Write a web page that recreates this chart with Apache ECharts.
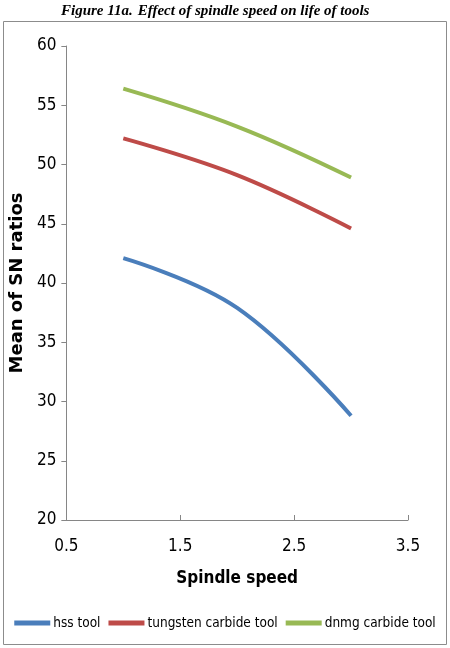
<!DOCTYPE html>
<html>
<head>
<meta charset="utf-8">
<script src="https://cdn.jsdelivr.net/npm/echarts@6/dist/echarts.min.js"></script>
<style>
    html, body { margin: 0; padding: 0; background: #fff; }
    #chart { width: 450px; height: 648px; }
</style>
</head>
<body>
<div id="chart"></div>
<script>
// spindle speed levels
const speeds = [1, 2, 3]
const hssTool = [42.1, 37.9, 28.8]
const tungstenTool = [52.2, 49.1, 44.6]
const dnmgTool = [56.4, 53.2, 48.9]
const seriesNames = ['hss tool', 'tungsten carbide tool', 'dnmg carbide tool']
const colorArr = ['#4a7ebb', '#be4b48', '#98b954']

const narrowFont = "'Liberation Sans Narrow', 'DejaVu Sans Condensed', sans-serif"

let chartInstance = echarts.init(document.getElementById('chart'))

const toPairs = (vals) => speeds.map((x, i) => [x, vals[i]])

const seriesArr = [hssTool, tungstenTool, dnmgTool].map((vals, index) => {
    return {
        name: seriesNames[index],
        type: 'line',
        data: toPairs(vals),
        smooth: 0.4,
        showSymbol: false,
        symbol: 'none',
        lineStyle: { width: 4, color: colorArr[index] },
        itemStyle: { color: colorArr[index] }
    }
})

const option = {
    animation: false,
    title: {
        text: '{b|Figure 11a.} {i|Effect of spindle speed on life of tools}',
        left: 56,
        top: -3,
        textStyle: {
            rich: {
                b: { fontFamily: "'Liberation Serif', serif", fontStyle: 'italic', fontWeight: 'bold', fontSize: 15, color: '#000' },
                i: { fontFamily: "'Liberation Serif', serif", fontStyle: 'italic', fontSize: 15, color: '#000' }
            }
        }
    },
    graphic: [{
        type: 'rect',
        shape: { x: 3.5, y: 21.5, width: 443, height: 623 },
        style: { fill: 'none', stroke: '#8c8c8c', lineWidth: 1 },
        silent: true
    }],
    grid: { left: 59, right: 42, top: 46, bottom: 128 },
    xAxis: {
        type: 'value',
        min: 0.5,
        max: 3.5,
        interval: 1,
        name: 'Spindle speed',
        nameLocation: 'middle',
        nameGap: 50,
        nameTextStyle: { fontFamily: narrowFont, fontWeight: 'bold', fontSize: 17, color: '#000' },
        axisLine: { lineStyle: { color: '#868686', width: 1 } },
        axisTick: { inside: true, length: 5, lineStyle: { color: '#868686' } },
        axisLabel: { fontFamily: narrowFont, fontSize: 17, color: '#000', margin: 18 },
        splitLine: { show: false }
    },
    yAxis: {
        type: 'value',
        min: 20,
        max: 60,
        interval: 5,
        name: 'Mean of SN ratios',
        nameLocation: 'middle',
        nameGap: 32,
        nameTextStyle: { fontFamily: "'DejaVu Sans', sans-serif", fontWeight: 'bold', fontSize: 18, color: '#000' },
        axisLine: { show: true, lineStyle: { color: '#868686', width: 1 } },
        axisTick: { show: true, length: 5, lineStyle: { color: '#868686' } },
        axisLabel: { fontFamily: narrowFont, fontSize: 17, color: '#000', margin: 10 },
        splitLine: { show: false }
    },
    legend: {
        data: seriesNames,
        bottom: 13,
        left: 'center',
        icon: 'rect',
        itemWidth: 36,
        itemHeight: 5,
        itemGap: 8,
        textStyle: { fontFamily: narrowFont, fontSize: 13.5, color: '#000', padding: [0, 0, 0, -2] }
    },
    series: seriesArr
}

chartInstance.setOption(option)
</script>
</body>
</html>
